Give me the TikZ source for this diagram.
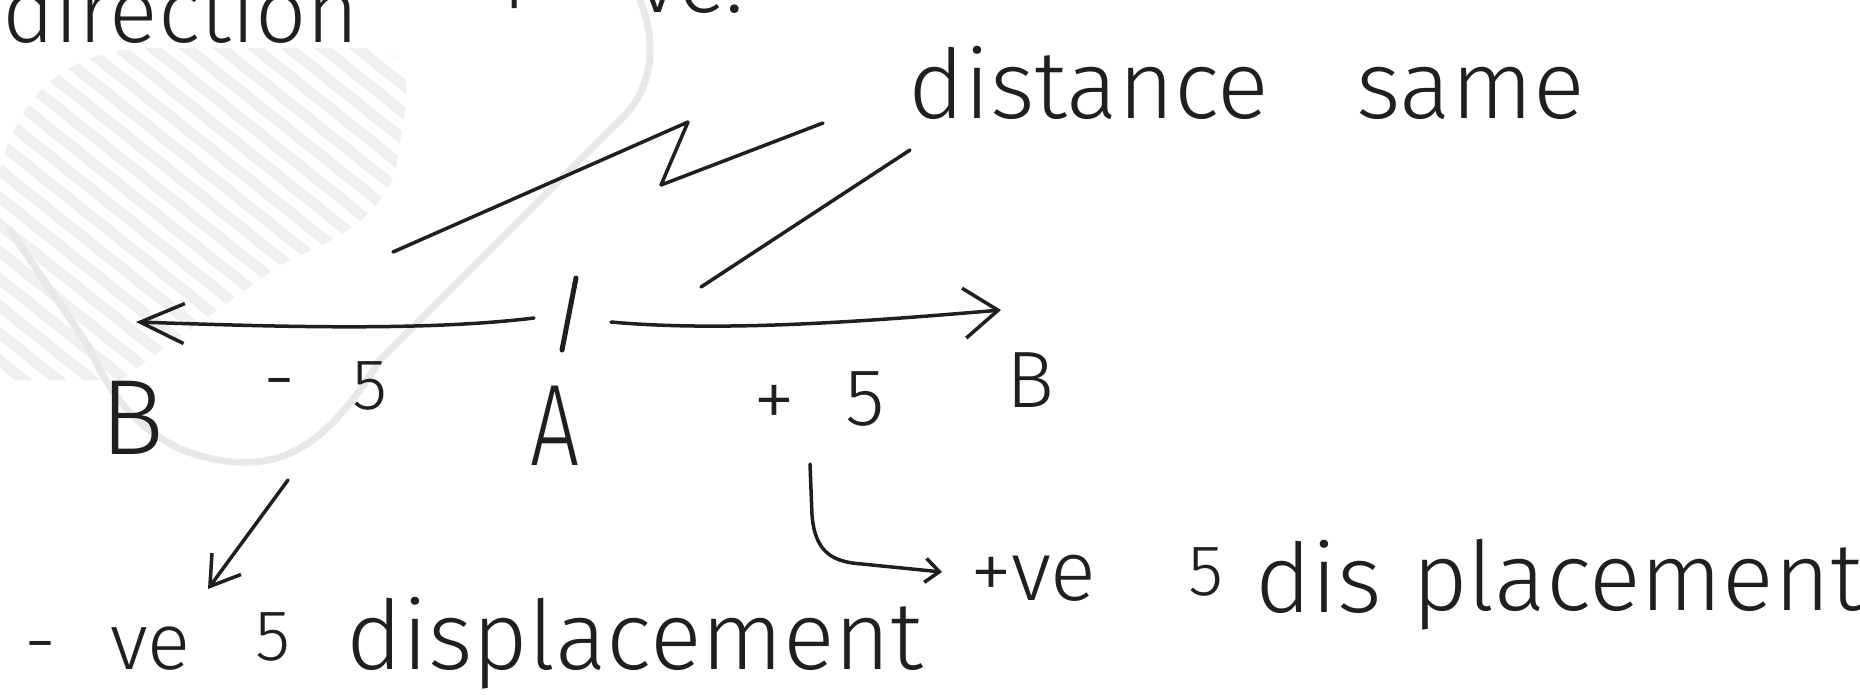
\documentclass[tikz,border=0pt]{standalone}
\usepackage{fontspec}
\newfontfamily\hand{Fira Sans}[UprightFont={* Light}]
\usetikzlibrary{arrows.meta}
\tikzset{
  ink/.style={draw=black!88, line width=3.5pt, line cap=round, line join=round},
  hw/.style={inner sep=0pt, outer sep=0pt, text=black!88, font={\hand\fontsize{#1}{#1}\selectfont}},
  wm/.style={draw=black!9, line width=7pt, line cap=round},
  stripe/.style={draw=black!6, line width=11pt, line cap=round}
}
\begin{document}
\begin{tikzpicture}[x=1pt,y=-1pt]
\useasboundingbox (0,0) rectangle (1860,694);
\clip (0,0) rectangle (1860,694);
% faint watermark
\begin{scope}
  \clip (0,380) -- (0,170) .. controls (20,90) and (70,50) .. (150,48) -- (370,48)
        .. controls (400,50) and (410,70) .. (405,110) -- (395,175)
        .. controls (370,230) and (320,245) .. (280,265) -- (120,380) -- cycle;
  \foreach \k in {-20,...,14} {
    \draw[stripe] (\k*34,-20) -- (\k*34+525,400);
  }
\end{scope}
\draw[wm] (640,0) .. controls (660,50) and (650,95) .. (615,125) -- (380,360) .. controls (330,440) and (290,465) .. (237,462) .. controls (170,458) and (120,420) .. (89,347) -- (10,230);
% top fragments
\node[hw=90, anchor=base west] (dir) at (2,42) {direction};
\node[hw=90, anchor=base west] (plusfrag) at (492,22) {+};
\node[hw=90, anchor=base west] (vefrag) at (636,12) {ve.};
% distance same
\node[hw=96, anchor=base west] (dist) at (908,118) {distance};
\node[hw=96, anchor=base west] (same) at (1356,118) {same};
% connector strokes to "distance same"
\coordinate (z0) at (393,252);
\coordinate (z1) at (688,122);
\coordinate (z2) at (661,185);
\coordinate (z3) at (823,123);
\draw[ink] (z0) -- (z1) -- (z2) -- (z3);
\coordinate (s0) at (701,287);
\coordinate (s1) at (910,150);
\draw[ink] (s0) -- (s1);
% number line
\coordinate (lstart) at (534,318);
\coordinate (ltip) at (136,322);
\coordinate (rstart) at (611,322);
\coordinate (rtip) at (1001,310);
\coordinate (tickT) at (576,278);
\coordinate (tickB) at (562,350);
\draw[ink, -{Straight Barb[length=44pt,width=40pt]}] (lstart) .. controls (420,332) and (260,326) .. (ltip);
\draw[ink, -{Straight Barb[length=34pt,width=50pt]}] (rstart) .. controls (720,332) and (860,322) .. (rtip);
\draw[ink, line width=5pt] (tickT) -- (tickB);
% labels on line
\node[hw=107, anchor=base west] (BL) at (100,454) {B};
\node[hw=80, anchor=base] (minus) at (280,405) {-};
\node[hw=72, anchor=base west] (m5) at (352,409) {5};
\node[hw=116, anchor=base, xscale=0.75] (A) at (555,465) {A};
\node[hw=85, anchor=base] (plus) at (774,428) {+};
\node[hw=81, anchor=base west] (p5) at (845,425) {5};
\node[hw=80, anchor=base west] (BR) at (1006,407) {B};
% down-left arrow
\coordinate (d0) at (288,480);
\coordinate (d1) at (208,589);
\draw[ink, -{Straight Barb[length=28pt,width=36pt]}] (d0) -- (d1);
% hook arrow
\coordinate (h0) at (810,464);
\coordinate (h1) at (942,572);
\draw[ink, -{Straight Barb[length=14pt,width=24pt]}] (h0) -- (812,515) .. controls (815,552) and (832,562) .. (862,564) -- (h1);
% bottom texts
\node[hw=80, anchor=base] (nminus) at (41,668) {-};
\node[hw=80, anchor=base west] (nve) at (110,669) {ve};
\node[hw=72, anchor=base west] (n5) at (255,660) {5};
\node[hw=96, anchor=base west] (ndisp) at (346,669) {displacement};
\node[hw=85, anchor=base west] (pve) at (970,600) {+ve};
\node[hw=72, anchor=base west] (pn5) at (1188,595) {5};
\node[hw=96, anchor=base west] (pdis) at (1255,612) {dis};
\node[hw=96, anchor=base west] (pplace) at (1412,610) {placement};
\end{tikzpicture}
\end{document}
